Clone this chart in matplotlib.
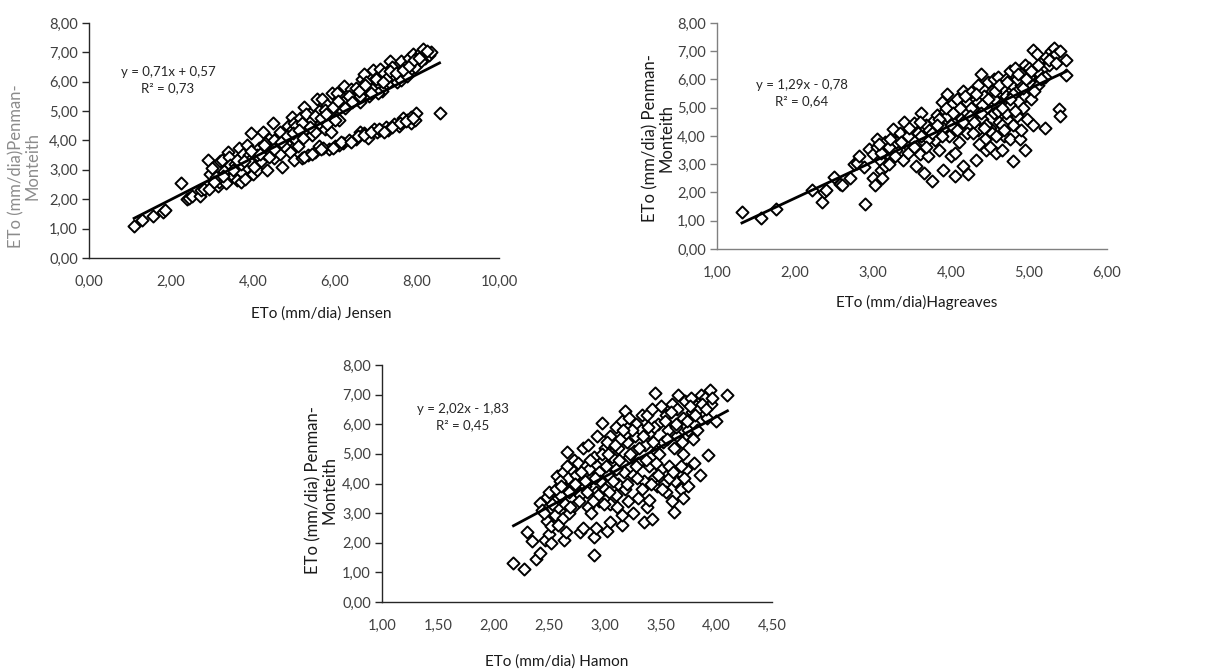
import matplotlib
matplotlib.use("Agg")
import matplotlib.pyplot as plt
import numpy as np

plt.rcParams['font.family'] = ['Lato', 'DejaVu Sans']

# ---------------- Panel 1: Jensen vs Penman-Monteith ----------------
jensen_x = [1.10, 1.30, 1.55, 1.80, 1.85, 2.25, 2.40, 2.45, 2.50, 2.70, 2.72, 2.80, 2.90, 2.95, 3.00, 2.92,
            3.15, 3.18, 3.20, 3.25, 3.35, 3.40, 3.42, 3.45, 3.50, 3.55, 3.60, 3.65, 3.70, 3.75, 3.80, 3.85,
            3.85, 3.90, 3.95, 4.00, 4.05, 4.10, 4.15, 4.20, 4.25, 4.30, 4.35, 4.40, 4.45, 4.48, 4.50, 4.55,
            4.60, 4.65, 4.70, 4.72, 4.80, 4.85, 4.90, 4.95, 5.00, 5.00, 5.05, 5.10, 5.15, 5.20, 5.25, 5.28,
            5.35, 5.40, 5.45, 5.50, 5.55, 5.60, 5.62, 5.68, 5.70, 5.75, 5.80, 5.85, 5.90, 5.92, 6.00, 6.02,
            6.05, 6.10, 6.15, 6.20, 6.22, 6.30, 6.35, 6.40, 6.45, 6.50, 6.55, 6.60, 6.62, 6.65, 6.70, 6.75,
            6.80, 6.82, 6.90, 6.92, 6.95, 7.00, 7.02, 7.05, 7.10, 7.15, 7.20, 7.25, 7.30, 7.32, 7.35, 7.40,
            7.45, 7.50, 7.52, 7.55, 7.60, 7.62, 7.65, 7.70, 7.75, 7.80, 7.82, 7.85, 7.90, 7.95, 7.97, 8.00,
            8.05, 8.10, 8.15, 8.20, 8.30, 8.35, 8.55,
            4.60, 4.75, 4.90, 5.05, 5.20, 5.30, 5.45, 5.60, 5.75, 5.90, 6.05, 6.20, 6.35, 6.50, 6.60, 6.75,
            6.90, 7.05, 7.25, 7.40, 7.60, 7.75, 7.95, 8.10, 5.50, 5.80, 6.00, 4.30, 4.10, 3.90, 3.70, 3.30,
            3.10, 4.50, 4.65, 6.70, 6.10, 5.70, 7.10, 7.85,
            3.05, 3.28, 3.52, 3.62, 3.78, 3.95, 4.02, 4.18, 4.28, 4.38, 4.52, 4.68, 4.82, 4.98, 5.12, 5.22,
            5.38, 5.52, 5.65, 5.78, 5.95, 6.08, 6.25, 6.42, 6.58, 6.72, 6.88, 7.00, 7.18, 7.35, 7.48, 7.65,
            7.80, 7.92, 8.05, 8.25, 5.25, 5.45, 5.65, 5.95, 6.15, 6.40, 6.55, 6.70, 6.88, 7.08, 7.20, 7.38,
            7.58, 7.72, 7.90]
jensen_y = [1.10, 1.28, 1.42, 1.55, 1.65, 2.55, 2.02, 2.05, 2.12, 2.10, 2.30, 2.35, 3.35, 2.85, 3.05, 2.35,
            2.45, 2.60, 3.30, 3.35, 2.55, 3.60, 3.45, 3.15, 2.80, 3.20, 2.65, 3.75, 2.60, 3.55, 2.70, 3.85,
            3.10, 3.50, 4.25, 2.85, 3.35, 3.00, 3.75, 3.30, 4.30, 3.55, 3.00, 4.05, 3.60, 4.60, 3.40, 3.90,
            3.70, 3.55, 3.10, 4.20, 3.90, 4.50, 3.60, 4.80, 3.35, 4.60, 4.00, 3.80, 4.75, 3.40, 5.15, 4.40,
            3.50, 4.90, 4.20, 3.60, 5.40, 4.60, 3.80, 5.40, 5.00, 4.40, 5.20, 3.70, 4.30, 5.60, 3.80, 4.80,
            5.25, 4.70, 5.50, 3.90, 5.85, 5.20, 4.00, 5.75, 5.40, 4.05, 5.60, 5.30, 4.30, 6.10, 6.25, 5.70,
            4.10, 5.50, 6.00, 6.40, 4.40, 5.80, 4.30, 6.20, 6.45, 5.70, 6.30, 4.45, 4.35, 6.00, 6.70, 6.20,
            4.55, 6.00, 6.55, 4.50, 6.30, 6.70, 4.75, 6.50, 4.70, 6.80, 6.40, 4.60, 6.95, 4.70, 4.95, 6.60,
            6.90, 7.00, 7.10, 6.80, 6.90, 7.00, 4.95,
            4.10, 3.80, 4.30, 4.50, 4.60, 4.90, 4.70, 5.00, 5.05, 5.00, 5.60, 5.30, 5.50, 5.80, 5.50, 6.00,
            5.75, 5.60, 6.10, 6.50, 6.05, 6.20, 6.50, 6.70, 4.30, 4.55, 4.70, 3.90, 3.50, 3.30, 3.20, 2.95,
            2.75, 4.00, 4.30, 4.25, 3.85, 3.75, 4.35, 4.80,
            2.60, 2.80, 3.00, 3.35, 3.30, 3.65, 3.10, 3.55, 3.85, 3.45, 3.70, 3.95, 4.15, 4.25, 4.35, 4.10,
            4.45, 4.85, 4.75, 4.90, 5.15, 5.35, 5.10, 5.30, 5.70, 5.90, 5.60, 6.10, 6.00, 6.35, 6.30, 6.40,
            6.55, 6.75, 6.80, 7.05, 3.45, 3.55, 3.70, 3.75, 3.95, 3.95, 4.15, 4.20, 4.30, 4.40, 4.30, 4.45,
            4.60, 4.65, 4.75]

# ---------------- Panel 2: Hargreaves vs Penman-Monteith ----------------
harg_x = [1.32, 1.57, 1.75, 2.22, 2.35, 2.37, 2.40, 2.50, 2.58, 2.60, 2.70, 2.75, 2.80, 2.82, 2.88, 2.90,
          2.95, 3.00, 3.00, 3.02, 3.05, 3.05, 3.10, 3.10, 3.12, 3.15, 3.15, 3.18, 3.20, 3.25, 3.25, 3.30,
          3.32, 3.35, 3.38, 3.40, 3.42, 3.45, 3.48, 3.50, 3.52, 3.55, 3.55, 3.58, 3.60, 3.62, 3.65, 3.65,
          3.68, 3.70, 3.72, 3.75, 3.78, 3.80, 3.82, 3.85, 3.88, 3.90, 3.90, 3.92, 3.95, 3.98, 4.00, 4.00,
          4.02, 4.05, 4.05, 4.08, 4.10, 4.12, 4.15, 4.15, 4.18, 4.20, 4.22, 4.22, 4.25, 4.28, 4.30, 4.32,
          4.35, 4.35, 4.38, 4.40, 4.40, 4.42, 4.45, 4.45, 4.48, 4.50, 4.50, 4.52, 4.55, 4.55, 4.58, 4.60,
          4.60, 4.62, 4.65, 4.65, 4.68, 4.70, 4.70, 4.72, 4.75, 4.75, 4.78, 4.80, 4.80, 4.82, 4.85, 4.85,
          4.88, 4.90, 4.90, 4.92, 4.95, 4.95, 4.95, 4.98, 5.00, 5.00, 5.02, 5.05, 5.05, 5.08, 5.10, 5.12,
          5.15, 5.18, 5.20, 5.22, 5.25, 5.28, 5.30, 5.32, 5.35, 5.38, 5.40, 5.40, 5.48, 5.48,
          4.05, 4.25, 4.45, 4.60, 4.75, 4.90, 4.15, 4.35, 4.55, 4.70, 4.85, 3.95, 3.85, 3.70, 3.60, 3.45,
          3.30, 3.20, 3.10, 4.00, 4.20, 4.40, 4.65, 4.80, 5.00, 5.10, 5.20,
          3.08, 3.22, 3.28, 3.36, 3.46, 3.52, 3.62, 3.68, 3.76, 3.82, 3.88, 3.94, 4.02, 4.08, 4.12, 4.18,
          4.24, 4.28, 4.32, 4.38, 4.42, 4.48, 4.52, 4.56, 4.62, 4.66, 4.72, 4.76, 4.82, 4.86, 4.92, 4.96,
          5.02, 5.06, 5.12, 5.16, 5.26, 5.34, 4.58, 4.68, 4.44, 4.30, 4.10, 4.36]
harg_y = [1.30, 1.10, 1.42, 2.08, 1.65, 2.02, 2.08, 2.55, 2.30, 2.28, 2.50, 3.00, 3.05, 3.30, 2.90, 1.60,
          3.55, 2.50, 3.35, 2.25, 3.90, 3.60, 3.10, 2.80, 2.50, 3.80, 2.95, 3.40, 3.00, 4.25, 3.70, 3.50,
          3.90, 4.10, 3.15, 4.50, 3.70, 3.40, 4.15, 3.90, 4.45, 2.95, 3.55, 4.10, 3.35, 4.80, 3.80, 2.70,
          4.40, 3.30, 4.20, 2.40, 4.55, 3.85, 4.75, 3.50, 5.20, 2.80, 4.30, 4.90, 5.50, 4.00, 3.30, 5.10,
          4.50, 2.60, 3.40, 5.30, 4.70, 4.30, 5.60, 2.95, 4.90, 5.20, 2.65, 4.40, 5.55, 4.70, 5.00, 3.15,
          5.80, 4.20, 6.20, 4.60, 3.80, 5.40, 3.50, 5.00, 5.90, 4.30, 3.60, 5.60, 4.80, 6.00, 3.40, 5.20,
          6.10, 4.50, 3.50, 5.70, 4.00, 6.00, 5.40, 4.60, 3.90, 6.30, 5.80, 3.10, 4.40, 6.40, 5.60, 4.70,
          3.90, 6.20, 4.20, 5.00, 6.50, 3.50, 5.40, 4.60, 6.40, 5.90, 5.30, 7.05, 4.40, 6.20, 6.90, 5.80,
          6.60, 6.40, 4.30, 6.80, 6.50, 7.00, 6.80, 7.10, 6.90, 4.95, 4.70, 7.00, 6.70, 6.15,
          4.80, 5.00, 4.40, 4.90, 5.10, 5.80, 4.50, 5.20, 5.30, 4.80, 6.00, 4.70, 4.60, 3.90, 4.50, 4.00,
          3.80, 3.60, 3.40, 4.40, 4.10, 5.10, 5.00, 5.50, 6.10, 6.30, 6.10,
          3.70, 3.90, 3.30, 3.80, 4.30, 3.60, 4.00, 3.60, 4.10, 4.40, 4.00, 5.00, 4.80, 4.20, 5.00, 5.40,
          4.70, 4.10, 5.50, 4.80, 4.30, 5.30, 4.10, 5.60, 5.80, 4.40, 5.90, 5.30, 4.90, 6.20, 5.70, 6.00,
          6.30, 5.60, 6.50, 6.00, 6.70, 6.60, 4.00, 4.20, 3.90, 4.50, 3.80, 3.70]

# ---------------- Panel 3: Hamon vs Penman-Monteith ----------------
hamon_x = [2.18, 2.27, 2.30, 2.35, 2.38, 2.42, 2.42, 2.44, 2.46, 2.48, 2.48, 2.50, 2.50, 2.52, 2.52, 2.55,
           2.55, 2.57, 2.58, 2.60, 2.62, 2.62, 2.63, 2.65, 2.65, 2.66, 2.67, 2.68, 2.70, 2.70, 2.72, 2.72,
           2.75, 2.76, 2.78, 2.78, 2.80, 2.80, 2.82, 2.83, 2.85, 2.85, 2.88, 2.88, 2.90, 2.90, 2.90, 2.92,
           2.92, 2.93, 2.95, 2.95, 2.97, 2.98, 3.00, 3.00, 3.02, 3.03, 3.05, 3.05, 3.05, 3.08, 3.10, 3.10,
           3.12, 3.12, 3.15, 3.15, 3.15, 3.17, 3.18, 3.18, 3.20, 3.22, 3.22, 3.25, 3.25, 3.27, 3.28, 3.30,
           3.30, 3.32, 3.33, 3.35, 3.35, 3.36, 3.38, 3.38, 3.40, 3.40, 3.40, 3.42, 3.42, 3.44, 3.45, 3.46,
           3.47, 3.48, 3.50, 3.50, 3.52, 3.53, 3.55, 3.55, 3.57, 3.58, 3.60, 3.60, 3.62, 3.62, 3.63, 3.65,
           3.65, 3.66, 3.67, 3.68, 3.70, 3.70, 3.70, 3.72, 3.73, 3.75, 3.75, 3.77, 3.78, 3.80, 3.80, 3.82,
           3.83, 3.85, 3.86, 3.88, 3.90, 3.92, 3.93, 3.94, 3.95, 4.00, 4.10,
           2.60, 2.68, 2.74, 2.86, 2.96, 3.06, 3.14, 3.20, 3.26, 3.34, 3.44, 3.54, 3.64, 3.74, 3.84, 2.56,
           2.64, 2.82, 3.02, 3.10, 3.28, 3.48, 3.58, 3.68, 2.94, 3.04,
           2.45, 2.53, 2.58, 2.61, 2.66, 2.69, 2.73, 2.77, 2.79, 2.84, 2.87, 2.89, 2.91, 2.97, 2.99, 3.01,
           3.07, 3.09, 3.11, 3.13, 3.19, 3.21, 3.23, 3.29, 3.31, 3.37, 3.39, 3.41, 3.43, 3.49, 3.51, 3.56,
           3.59, 3.61, 3.64, 3.69, 3.71, 3.76, 3.79, 3.81, 3.87, 3.91, 3.96, 3.33, 3.46, 3.24, 3.16, 3.03]
hamon_y = [1.30, 1.10, 2.35, 2.05, 1.45, 1.65, 3.35, 3.10, 2.10, 3.55, 2.75, 2.30, 3.70, 2.00, 2.55, 3.40,
           2.95, 4.25, 3.20, 3.60, 4.40, 2.85, 2.10, 3.80, 2.35, 5.05, 4.20, 3.00, 4.50, 3.50, 4.80, 3.25,
           4.00, 4.70, 2.35, 3.60, 5.20, 2.50, 3.90, 4.60, 5.30, 3.20, 4.20, 3.00, 4.90, 1.60, 2.20, 2.50,
           3.70, 5.60, 4.40, 3.40, 6.05, 4.80, 3.80, 5.20, 2.40, 4.30, 5.60, 2.70, 3.30, 4.70, 5.90, 3.60,
           5.20, 4.00, 6.10, 2.60, 2.95, 4.40, 6.45, 3.80, 5.40, 4.90, 6.20, 4.30, 3.00, 5.60, 6.00, 4.70,
           3.50, 5.80, 6.30, 2.70, 4.10, 5.30, 6.30, 3.20, 4.60, 3.45, 5.70, 2.80, 6.50, 4.20, 7.05, 5.10,
           3.90, 6.00, 4.50, 6.60, 5.40, 4.00, 6.30, 3.70, 5.80, 4.60, 6.70, 3.40, 5.20, 3.05, 4.10, 6.50,
           5.60, 7.00, 4.40, 3.80, 6.20, 5.00, 3.50, 6.80, 4.50, 5.80, 3.90, 6.90, 6.40, 4.70, 6.00, 6.60,
           5.80, 4.30, 7.00, 6.40, 6.90, 6.20, 4.95, 7.15, 6.70, 6.10, 7.00,
           4.10, 3.70, 4.30, 4.50, 4.10, 4.90, 5.50, 4.00, 5.10, 5.60, 5.90, 6.10, 5.90, 6.10, 6.50, 3.80,
           3.30, 4.10, 5.40, 4.50, 4.60, 4.30, 4.20, 4.60, 3.60, 3.70,
           3.00, 3.30, 2.60, 3.90, 4.60, 3.20, 4.00, 3.40, 4.40, 3.70, 4.80, 3.40, 4.20, 5.00, 3.30, 4.60,
           4.10, 5.30, 3.20, 4.80, 5.70, 3.40, 5.00, 4.20, 5.20, 4.80, 5.90, 4.00, 5.40, 5.00, 3.80, 5.50,
           6.40, 4.40, 6.00, 5.40, 4.20, 6.60, 5.50, 6.30, 6.70, 6.50, 6.90, 3.80, 4.70, 5.80, 5.80, 5.00]

# Trend lines (slope, intercept) as printed on the chart
trend_coefs = [(0.71, 0.57), (1.29, -0.78), (2.02, -1.83)]
equations = ["y = 0,71x + 0,57\nR² = 0,73", "y = 1,29x - 0,78\nR² = 0,64", "y = 2,02x - 1,83\nR² = 0,45"]
x_labels = ["ETo (mm/dia) Jensen", "ETo (mm/dia)Hagreaves", "ETo (mm/dia) Hamon"]
y_labels = ["ETo (mm/dia)Penman-\nMonteith", "ETo (mm/dia) Penman-\nMonteith", "ETo (mm/dia) Penman-\nMonteith"]
x_limits = [(0, 10), (1, 6), (1, 4.5)]
x_steps = [2, 1, 0.5]

fig = plt.figure(figsize=(12.16, 6.71), dpi=100)
W, H = 1216, 671


def px_axes(l, t, r, b):
    return fig.add_axes([l / W, 1 - b / H, (r - l) / W, (b - t) / H])


def fig_text(x, y, s, **kw):
    return fig.text(x / W, 1 - y / H, s, **kw)


axes = [px_axes(89, 23, 499, 258), px_axes(717, 23, 1107, 249), px_axes(382, 365, 772, 602)]
datasets = [(jensen_x, jensen_y), (harg_x, harg_y), (hamon_x, hamon_y)]
spine_colors = ["#262626", "#808080", "#262626"]
ylabel_colors = ["#8c8c8c", "#1a1a1a", "#1a1a1a"]
ylabel_px = [(24, 166), (658, 138), (321, 490)]
xlabel_px = [(321, 314), (917, 302), (557, 662)]
eq_px = [(168, 80), (802, 93), (463, 417)]
fmt = matplotlib.ticker.FuncFormatter(lambda v, p: f"{v:.2f}".replace('.', ','))

for i, ax in enumerate(axes):
    xs, ys = datasets[i]
    ax.scatter(xs, ys, marker='D', s=38, facecolors='white', edgecolors='black', linewidths=1.4, zorder=3)
    m, c = trend_coefs[i]
    xl = np.array([min(xs), max(xs)])
    ax.plot(xl, m * xl + c, color='black', lw=2.0, zorder=4)
    lo, hi = x_limits[i]
    ax.set_xlim(lo, hi)
    ax.set_ylim(0, 8)
    ax.set_xticks(np.arange(lo, hi + 1e-9, x_steps[i]))
    ax.set_yticks(np.arange(0, 8.01, 1))
    ax.xaxis.set_major_formatter(fmt)
    ax.yaxis.set_major_formatter(fmt)
    for s in ['top', 'right']:
        ax.spines[s].set_visible(False)
    for s in ['left', 'bottom']:
        ax.spines[s].set_color(spine_colors[i])
        ax.spines[s].set_linewidth(1.0)
    ax.tick_params(axis='y', length=5, width=1, color=spine_colors[i], labelsize=10.5, labelcolor='#404040', pad=3)
    ax.tick_params(axis='x', length=0, labelsize=10.5, labelcolor='#404040', pad=12)
    fig_text(*xlabel_px[i], x_labels[i], ha='center', va='center', fontsize=11, color='#1a1a1a')
    fig_text(*ylabel_px[i], y_labels[i], ha='center', va='center', rotation=90, fontsize=12,
             color=ylabel_colors[i], linespacing=1.0, multialignment='center')
    fig_text(*eq_px[i], equations[i], ha='center', va='center', fontsize=9.5,
             color='#262626', linespacing=1.45)

fig.savefig("out.png", dpi=100)
